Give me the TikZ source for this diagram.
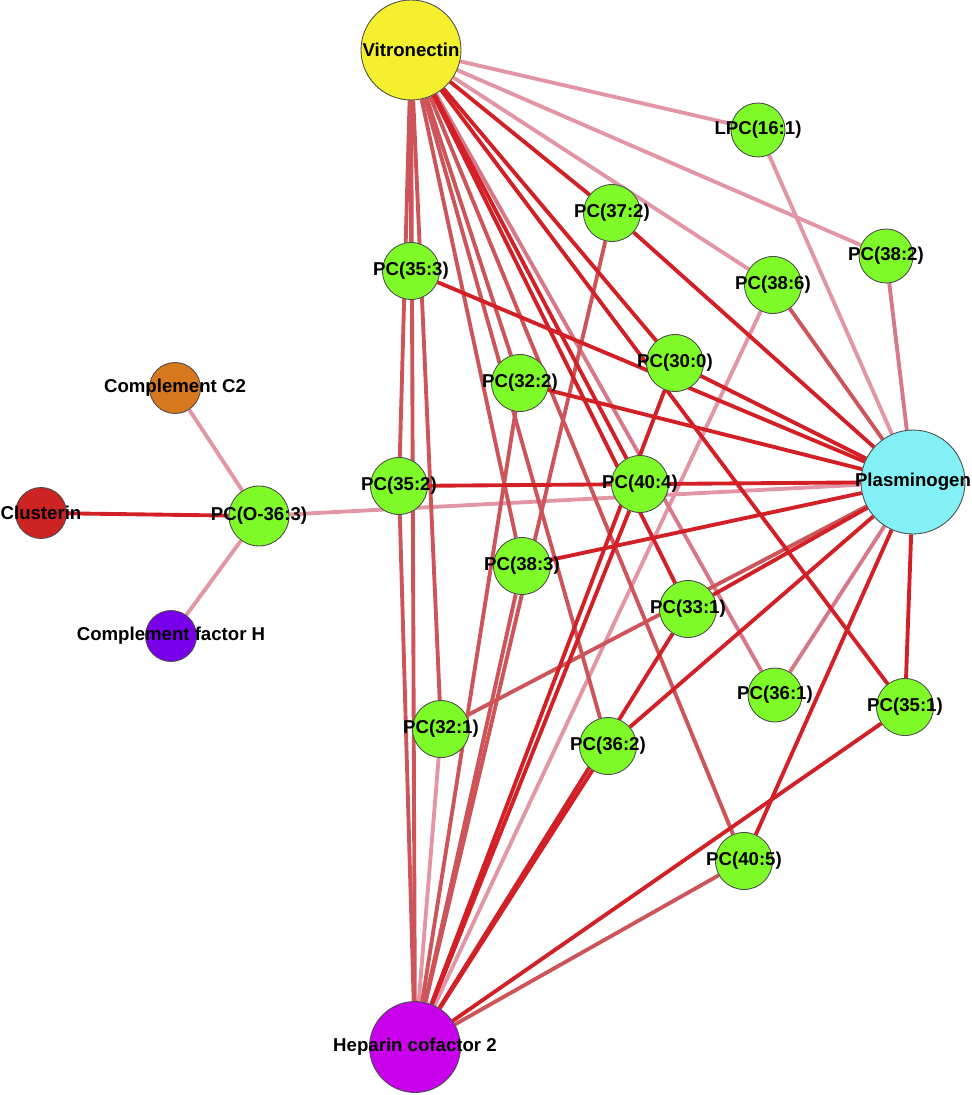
\documentclass[tikz,border=0pt]{standalone}
\usepackage{fontspec}
\setmainfont{Liberation Sans}
\usepackage{xcolor}
\usetikzlibrary{backgrounds}
\definecolor{vitro}{RGB}{245,240,45}
\definecolor{plasm}{RGB}{130,240,245}
\definecolor{hepco}{RGB}{200,0,235}
\definecolor{lipgreen}{RGB}{125,250,40}
\definecolor{clus}{RGB}{205,35,35}
\definecolor{compc}{RGB}{215,120,30}
\definecolor{compf}{RGB}{120,0,235}
\definecolor{corrhi}{RGB}{210,32,38}
\definecolor{corrmid}{RGB}{205,85,90}
\definecolor{corrlow}{RGB}{214,120,135}
\definecolor{corrweak}{RGB}{226,150,165}
\tikzset{
  prot/.style={
    shape = circle,
    draw = black!70,
    line width = 0.5pt,
    inner sep = 0pt,
    minimum size = 1.02cm
  },
  hub/.style={
    prot
  },
  lipid/.style={
    prot,
    fill = lipgreen,
    minimum size = 1.14cm
  },
  every label/.style={
    font = \bfseries\fontsize{10.6}{12}\selectfont,
    inner sep = 0pt
  }
}
\tikzset{
  strong/.style={
    draw = corrhi,
    line width = 2.2pt
  },
  mid/.style={
    draw = corrmid,
    line width = 2.2pt
  },
  low/.style={
    draw = corrlow,
    line width = 2.2pt
  },
  weak/.style={
    draw = corrweak,
    line width = 2.2pt
  }
}
\begin{document}
\begin{tikzpicture}[x=0.02cm, y=-0.02cm]
  \useasboundingbox (0,0) rectangle (972,1095);
  % proteins
  \node[hub, fill=vitro, minimum size=2cm, label={center:Vitronectin}] (vtn) at (411,50) {};
  \node[hub, fill=plasm, minimum size=2.08cm, label={center:Plasminogen}] (plg) at (913,482) {};
  \node[hub, fill=hepco, minimum size=1.82cm, label={center:Heparin cofactor 2}] (hcf) at (415,1047) {};
  \node[prot, fill=clus, label={center:Clusterin}] (clu) at (41,513) {};
  \node[prot, fill=compc, label={center:Complement C2}] (cc2) at (175,388) {};
  \node[prot, fill=compf, label={center:Complement factor H}] (cfh) at (171,636) {};
  % lipids
  \node[lipid, minimum size=1.08cm, label={center:LPC(16:1)}] (lpc161) at (758,130) {};
  \node[lipid, label={center:PC(37:2)}] (pc372) at (612,213) {};
  \node[lipid, minimum size=1.08cm, label={center:PC(38:2)}] (pc382) at (886,256) {};
  \node[lipid, label={center:PC(38:6)}] (pc386) at (773,285) {};
  \node[lipid, label={center:PC(35:3)}] (pc353) at (411,271) {};
  \node[lipid, label={center:PC(30:0)}] (pc300) at (675,363) {};
  \node[lipid, label={center:PC(32:2)}] (pc322) at (520,383) {};
  \node[lipid, label={center:PC(35:2)}] (pc352) at (399,486) {};
  \node[lipid, label={center:PC(40:4)}] (pc404) at (640,484) {};
  \node[lipid, minimum size=1.2cm, label={center:PC(O-36:3)}] (pco363) at (259,516) {};
  \node[lipid, label={center:PC(38:3)}] (pc383) at (522,566) {};
  \node[lipid, label={center:PC(33:1)}] (pc331) at (688,609) {};
  \node[lipid, minimum size=1.08cm, label={center:PC(36:1)}] (pc361) at (775,695) {};
  \node[lipid, label={center:PC(35:1)}] (pc351) at (905,707) {};
  \node[lipid, label={center:PC(32:1)}] (pc321) at (441,729) {};
  \node[lipid, label={center:PC(36:2)}] (pc362) at (608,746) {};
  \node[lipid, label={center:PC(40:5)}] (pc405) at (744,861) {};
  % correlations
  \begin{scope}[on background layer]
    \foreach \a/\b in {vtn/lpc161, vtn/pc382, vtn/pc386, plg/lpc161, plg/pco363, hcf/pc321, hcf/pc386, pco363/cc2, pco363/cfh}
      \draw[weak] (\a) -- (\b);
    \foreach \a/\b in {vtn/pc361, plg/pc361, plg/pc382}
      \draw[low] (\a) -- (\b);
    \foreach \a/\b in {vtn/pc353, vtn/pc352, vtn/hcf, vtn/pc321, vtn/pc383, vtn/pc362, vtn/pc322, vtn/pc405, plg/pc386, plg/pc321, hcf/pc352, hcf/pc322, hcf/pc383, hcf/pc372, hcf/pc405}
      \draw[mid] (\a) -- (\b);
    \foreach \a/\b in {vtn/pc372, vtn/pc300, vtn/pc351, vtn/pc404, vtn/pc331, plg/pc372, plg/pc300, plg/pc353, plg/pc322, plg/pc352, plg/pc383, plg/pc331, plg/pc362, plg/pc405, plg/pc351, hcf/pc300, hcf/pc404, hcf/pc331, hcf/pc362, hcf/pc351, pco363/clu}
      \draw[strong] (\a) -- (\b);
  \end{scope}
\end{tikzpicture}
\end{document}
